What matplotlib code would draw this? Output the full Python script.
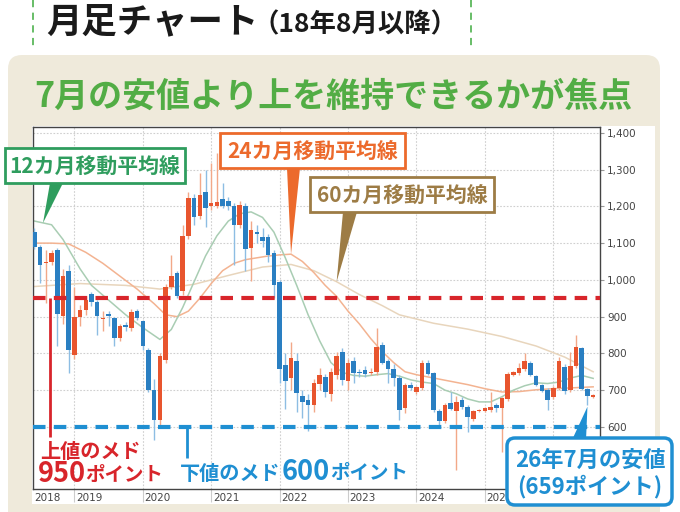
import matplotlib
matplotlib.use("Agg")
import matplotlib.pyplot as plt
from matplotlib.patches import FancyBboxPatch, Polygon, Rectangle
import numpy as np

plt.rcParams["font.family"] = ["Noto Sans CJK JP", "DejaVu Sans"]

# Monthly candles, Jun 2018 .. Aug 2026 (index 0 = Jun 2018)
opens = [1131, 1090, 1045, 1050, 1080, 903, 1023, 796, 899, 918,
         962, 941, 894, 907, 896, 842, 876, 870, 914, 887,
         810, 701, 619, 782, 982, 1019, 969, 1120, 1224, 1173,
         1240, 1200, 1201, 1220, 1216, 1200, 1150, 1201, 1087, 1131,
         1118, 1117, 1074, 993, 769, 733, 778, 684, 673, 660,
         717, 735, 690, 741, 805, 726, 778, 750, 755, 746,
         748, 823, 778, 757, 733, 651, 714, 696, 705, 773,
         746, 642, 617, 664, 642, 673, 655, 621, 644, 644,
         645, 660, 651, 676, 742, 746, 758, 773, 739, 714,
         701, 680, 705, 764, 701, 766, 814, 702, 681]
highs = [1142, 1096, 1082, 1080, 1088, 1030, 1041, 982, 932, 955,
         968, 945, 914, 915, 900, 880, 885, 920, 920, 892,
         815, 730, 800, 990, 1068, 1025, 1150, 1240, 1235, 1290,
         1300, 1318, 1345, 1264, 1225, 1210, 1215, 1210, 1160, 1150,
         1140, 1125, 1080, 1000, 800, 830, 800, 700, 690, 730,
         760, 745, 760, 805, 815, 785, 790, 758, 765, 760,
         870, 830, 785, 770, 740, 720, 722, 712, 782, 782,
         750, 648, 665, 696, 683, 680, 660, 645, 650, 655,
         696, 665, 682, 750, 752, 775, 800, 778, 742, 718,
         705, 710, 791, 770, 805, 850, 818, 705, 690]
lows = [1085, 992, 937, 1040, 819, 880, 747, 785, 874, 905,
        930, 850, 860, 875, 819, 835, 860, 862, 890, 810,
        695, 565, 605, 775, 975, 950, 960, 1110, 1150, 1165,
        1145, 1190, 1195, 1195, 1190, 1041, 1140, 1023, 996, 1100,
        1090, 1050, 950, 720, 650, 700, 640, 624, 590, 640,
        700, 680, 670, 730, 715, 700, 720, 735, 735, 740,
        740, 770, 720, 710, 619, 637, 700, 690, 700, 740,
        640, 605, 610, 645, 483, 650, 587, 615, 640, 640,
        640, 640, 533, 670, 738, 742, 752, 738, 710, 695,
        646, 675, 700, 690, 695, 760, 700, 659, 678]
closes = [1090, 1040, 1050, 1074, 907, 1011, 810, 900, 918, 946,
          941, 902, 897, 903, 842, 875, 872, 912, 896, 819,
          701, 619, 792, 982, 1011, 957, 1120, 1224, 1170, 1231,
          1196, 1209, 1213, 1201, 1200, 1150, 1204, 1084, 1136, 1125,
          1107, 1068, 986, 757, 724, 787, 692, 669, 660, 719,
          741, 694, 750, 793, 728, 775, 747, 746, 744, 749,
          817, 775, 757, 733, 646, 714, 705, 708, 773, 744,
          646, 617, 660, 648, 669, 654, 628, 642, 646, 651,
          654, 651, 678, 744, 748, 760, 780, 742, 714, 699,
          673, 705, 778, 699, 766, 817, 702, 683, 687]

# moving averages (month index, value)
ma12_x = [0, 3, 5, 8, 10, 13, 16, 19, 22, 24, 26, 28, 30, 32, 34, 36, 38, 40,
          42, 44, 46, 48, 50, 52, 54, 56, 58, 60, 62, 64, 66, 68, 70, 72, 74,
          76, 78, 80, 82, 84, 86, 88, 90, 92, 94, 96, 98]
ma12_y = [1160, 1150, 1110, 1030, 985, 945, 905, 870, 838, 865, 925, 995, 1065,
          1120, 1160, 1180, 1185, 1170, 1130, 1060, 985, 905, 835, 775, 748,
          740, 738, 742, 745, 738, 728, 722, 718, 700, 690, 676, 668, 668, 682,
          700, 712, 720, 718, 722, 733, 740, 732]
ma24_x = [0, 3, 6, 9, 12, 15, 18, 21, 23, 25, 27, 29, 31, 33, 35, 37, 39, 41,
          43, 45, 47, 49, 51, 53, 55, 57, 59, 61, 63, 65, 67, 70, 73, 76, 79,
          82, 85, 88, 91, 94, 98]
ma24_y = [1100, 1100, 1098, 1075, 1045, 1010, 975, 935, 905, 900, 915, 950, 990,
          1025, 1045, 1055, 1060, 1065, 1068, 1070, 1050, 1020, 985, 955, 915,
          880, 840, 805, 775, 750, 742, 733, 724, 715, 704, 695, 696, 701, 704,
          706, 709]
ma60_x = [0, 8, 16, 22, 28, 34, 40, 45, 49, 53, 57, 61, 64, 70, 76, 82, 88, 93, 98]
ma60_y = [982, 990, 985, 975, 988, 1012, 1035, 1042, 1025, 995, 960, 930, 905,
          882, 866, 846, 820, 790, 750]

years = list(range(2018, 2026))
grid_years = list(range(2019, 2027))
yticks = list(range(600, 1500, 100))
upper_target = 950
lower_target = 600

C_UP = "#e8552e"
C_DN = "#2a7fc2"
C_UP_W = "#f2a888"
C_DN_W = "#8dbde3"
C_GREEN = "#2f9d5e"
C_ORANGE = "#ec6a2c"
C_BROWN = "#9d7c45"
C_RED = "#d8252b"
C_BLUE = "#1f8fd2"

W, H = 680, 512
fig = plt.figure(figsize=(W / 100, H / 100), dpi=100)

# background layer in pixel units
bg = fig.add_axes([0, 0, 1, 1], zorder=0)
bg.set_xlim(0, W)
bg.set_ylim(H, 0)
bg.axis("off")
bg.add_patch(FancyBboxPatch((8, 55), 652, 480, boxstyle="round,pad=0,rounding_size=14",
                            fc="#efeadb", ec="none"))
bg.add_patch(Rectangle((32, 126), 623, 378, fc="white", ec="none"))
for gx in (33, 471):
    bg.plot([gx, gx], [0, 47], color="#5cb85c", lw=1.3, ls=(0, (4, 3)))
bg.text(46, 22, "月足チャート", fontsize=25.5, fontweight="bold", color="#1a1a1a",
        va="center", ha="left")
bg.text(252, 25, "（18年8月以降）", fontsize=19, fontweight="bold", color="#1a1a1a",
        va="center", ha="left")
bg.text(34, 96, "7月の安値より上を維持できるかが焦点", fontsize=24.5, fontweight="bold",
        color="#52ad45", va="center", ha="left")

# chart
ax = fig.add_axes([33 / W, 1 - 489 / H, 567 / W, 362 / H], zorder=1)
n = len(opens)
xs = np.arange(n)
ax.set_xlim(-0.26, 99.2)
ax.set_ylim(431, 1416)

ax.plot(ma60_x, ma60_y, color="#e8d5bc", lw=1.1, zorder=2)
ax.plot(ma24_x, ma24_y, color="#f3b391", lw=1.1, zorder=2)
ax.plot(ma12_x, ma12_y, color="#a9cdb3", lw=1.1, zorder=2)

o = np.array(opens); c = np.array(closes)
up = c >= o
wcol = np.where(up, C_UP_W, C_DN_W)
bcol = np.where(up, C_UP, C_DN)
ax.vlines(xs, lows, highs, colors=wcol, lw=1.0, zorder=3)
body_lo = np.minimum(o, c)
body_h = np.maximum(np.abs(c - o), 3)
ax.bar(xs, body_h, bottom=body_lo, width=0.8, color=bcol, zorder=4)

ax.axhline(upper_target, color=C_RED, lw=3, ls=(0, (3, 2)), zorder=5)
ax.axhline(lower_target, color=C_BLUE, lw=3, ls=(0, (3, 2)), zorder=5)
ax.vlines(2.7, 573, upper_target, color=C_RED, lw=2, zorder=6)
ax.vlines(26.8, 516, lower_target, color=C_BLUE, lw=2, zorder=6)

grid_pos = [(y - 2018) * 12 - 5 for y in grid_years]
ax.set_xticks(grid_pos)
ax.set_xticklabels([])
ax.tick_params(axis="x", length=9, color="#cccccc", width=0.8)
label_pos = [-0.26] + grid_pos[:len(years) - 1]
for y, p in zip(years, label_pos):
    ax.text(p + 0.3, -0.012, str(y), transform=ax.get_xaxis_transform(),
            fontsize=7.5, color="#444444", ha="left", va="top", family="DejaVu Sans")
ax.grid(axis="x", color="#cfcfcf", ls=(0, (1.5, 1.5)), lw=0.8)
ax.grid(axis="y", color="#cfcfcf", ls=(0, (1.5, 1.5)), lw=0.8)
ax.set_yticks(yticks)
ax.set_yticklabels([f"{v:,}" for v in yticks], fontsize=7.5, color="#444444",
                   family="DejaVu Sans")
ax.yaxis.tick_right()
ax.tick_params(axis="y", length=3, color="#999999", pad=2)
for s in ax.spines.values():
    s.set_color("#444444")
    s.set_linewidth(1.0)

# overlay for callouts (pixel units)
ov = fig.add_axes([0, 0, 1, 1], zorder=2)
ov.set_xlim(0, W)
ov.set_ylim(H, 0)
ov.axis("off")
ov.patch.set_alpha(0)


def to_px(x, y):
    return ov.transData.inverted().transform(ax.transData.transform((x, y)))


def callout(text, color, box, base, tip_xy, fs=15):
    x0, y0, bw, bh = box
    ov.add_patch(Polygon([(base[0], base[2]), (base[1], base[2]), tuple(tip_xy)],
                         closed=True, fc=color, ec="none"))
    ov.add_patch(Rectangle((x0, y0), bw, bh, fc="white", ec=color, lw=2))
    ov.text(x0 + bw / 2, y0 + bh / 2 + 1, text, fontsize=fs, fontweight="bold",
            color=color, ha="center", va="center")


callout("12カ月移動平均線", C_GREEN, (5, 148, 180, 35), (50, 63, 183),
        to_px(1.5, np.interp(1.5, ma12_x, ma12_y)))
callout("24カ月移動平均線", C_ORANGE, (220, 133, 185, 35), (287, 300, 168),
        to_px(45, np.interp(45, ma24_x, ma24_y)))
callout("60カ月移動平均線", C_BROWN, (310, 177, 184, 35), (343, 357, 212),
        to_px(53, np.interp(53, ma60_x, ma60_y)))

# lows callout
tip = to_px(97, lows[97] - 4)
ov.add_patch(Polygon([(572, 440), (586, 440), tuple(tip)], closed=True, fc=C_BLUE, ec="none"))
ov.add_patch(FancyBboxPatch((507, 438), 165, 67, boxstyle="round,pad=0,rounding_size=8",
                            fc="white", ec=C_BLUE, lw=2.5))
ov.text(590, 460, "26年7月の安値", fontsize=16, fontweight="bold", color=C_BLUE,
        ha="center", va="center")
ov.text(590, 487, "(659ポイント)", fontsize=16, fontweight="bold", color=C_BLUE,
        ha="center", va="center")

# target labels
ov.text(40, 451, "上値のメド", fontsize=14.5, fontweight="bold", color=C_RED,
        ha="left", va="center")
ov.text(38, 474, "950", fontsize=19.5, fontweight="bold", color=C_RED, ha="left", va="center")
ov.text(85, 475, "ポイント", fontsize=14, fontweight="bold", color=C_RED, ha="left", va="center")
ov.text(180, 473, "下値のメド", fontsize=14.5, fontweight="bold", color=C_BLUE,
        ha="left", va="center")
ov.text(282, 472, "600", fontsize=19.5, fontweight="bold", color=C_BLUE, ha="left", va="center")
ov.text(330, 473, "ポイント", fontsize=14, fontweight="bold", color=C_BLUE, ha="left", va="center")

fig.savefig("out.png", dpi=100)
